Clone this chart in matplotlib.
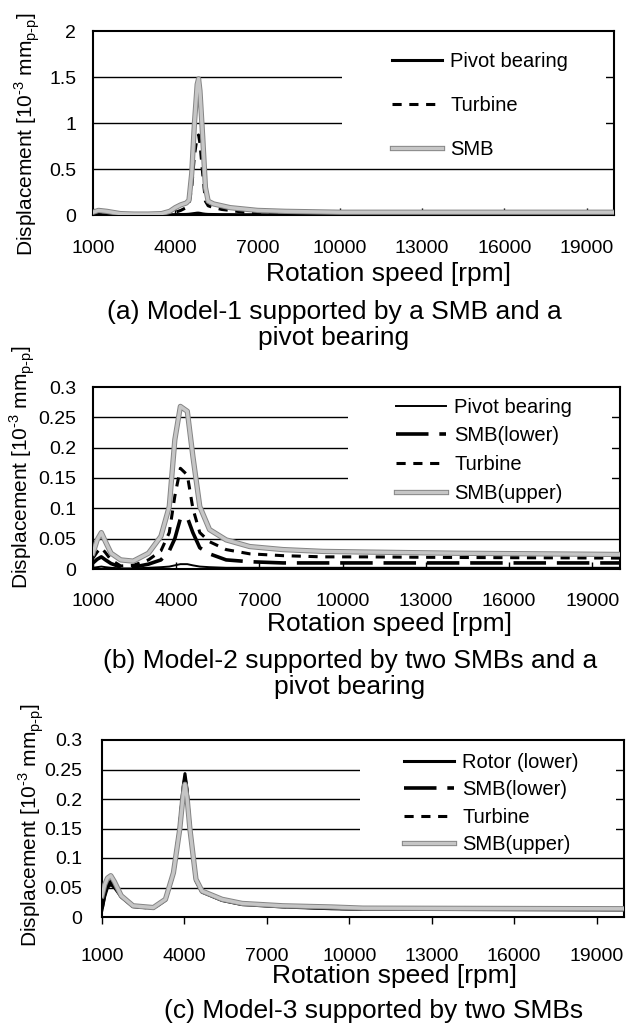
import matplotlib
matplotlib.use("Agg")
import matplotlib.pyplot as plt
import matplotlib.patheffects as pe
from matplotlib.lines import Line2D
from matplotlib.patches import Rectangle

plt.rcParams['font.family'] = ['Liberation Sans', 'DejaVu Sans']
plt.rcParams['mathtext.fontset'] = 'custom'
plt.rcParams['mathtext.rm'] = 'Liberation Sans'

# ---- data ----
xticks = [1000, 4000, 7000, 10000, 13000, 16000, 19000]

# (a) Model-1
rpm_a = [1000, 1200, 1500, 2000, 2500, 3000, 3500, 3800, 4000, 4200,
         4400, 4500, 4600, 4700, 4800, 4850, 4900, 5000, 5100, 5200,
         5400, 5700, 6000, 6500, 7000, 8000, 9000, 10000, 12000, 15000, 20000]
pivot_a = [0.003, 0.004, 0.003, 0.002, 0.002, 0.002, 0.002, 0.003, 0.004, 0.005,
           0.006, 0.008, 0.012, 0.016, 0.02, 0.02, 0.018, 0.012, 0.008, 0.006,
           0.005, 0.004, 0.004, 0.003, 0.003, 0.003, 0.003, 0.003, 0.003, 0.003, 0.003]
turbine_a = [0.01, 0.02, 0.015, 0.005, 0.003, 0.003, 0.005, 0.01, 0.03, 0.05,
             0.08, 0.12, 0.3, 0.65, 0.85, 0.87, 0.78, 0.45, 0.15, 0.10,
             0.08, 0.06, 0.05, 0.03, 0.02, 0.012, 0.01, 0.008, 0.006, 0.005, 0.005]
smb_a = [0.03, 0.05, 0.04, 0.015, 0.01, 0.01, 0.015, 0.04, 0.08, 0.11,
         0.13, 0.16, 0.45, 1.0, 1.42, 1.48, 1.35, 0.85, 0.30, 0.15,
         0.12, 0.10, 0.08, 0.065, 0.05, 0.04, 0.035, 0.03, 0.03, 0.03, 0.03]

# (b) Model-2
rpm_b = [1000, 1150, 1300, 1450, 1650, 2000, 2450, 3000, 3450, 3750, 3950, 4150,
         4400, 4600, 4850, 5200, 5800, 6650, 7850, 9300, 10750, 14100, 20000]
pivot_b = [0.002, 0.003, 0.004, 0.003, 0.002, 0.001, 0.001, 0.002, 0.003, 0.004, 0.006, 0.008,
           0.008, 0.006, 0.004, 0.003, 0.002, 0.002, 0.002, 0.002, 0.002, 0.002, 0.002]
lower_b = [0.010, 0.016, 0.020, 0.015, 0.009, 0.003, 0.003, 0.008, 0.015, 0.03, 0.05, 0.083,
           0.085, 0.06, 0.035, 0.025, 0.015, 0.012, 0.010, 0.010, 0.010, 0.010, 0.010]
turbine_b = [0.018, 0.028, 0.035, 0.027, 0.015, 0.005, 0.006, 0.015, 0.03, 0.06, 0.12, 0.166,
             0.155, 0.10, 0.06, 0.045, 0.032, 0.025, 0.022, 0.020, 0.020, 0.019, 0.018]
upper_b = [0.026, 0.048, 0.060, 0.045, 0.026, 0.015, 0.013, 0.026, 0.054, 0.103, 0.213, 0.268,
           0.260, 0.186, 0.103, 0.065, 0.048, 0.037, 0.032, 0.029, 0.028, 0.026, 0.024]

# (c) Model-3
rpm_c = [1000, 1100, 1200, 1320, 1450, 1700, 2130, 2870, 3310, 3600, 3830, 3950,
         4020, 4100, 4200, 4420, 4640, 5370, 6100, 7580, 9350, 10500, 20000]
rotor_c = [0.012, 0.035, 0.050, 0.055, 0.050, 0.034, 0.018, 0.015, 0.029, 0.074, 0.155, 0.220,
           0.243, 0.215, 0.152, 0.062, 0.042, 0.028, 0.021, 0.017, 0.014, 0.013, 0.012]
lower_c = [0.015, 0.04, 0.055, 0.06, 0.054, 0.035, 0.018, 0.015, 0.029, 0.074, 0.152, 0.212,
           0.235, 0.208, 0.15, 0.062, 0.043, 0.029, 0.022, 0.018, 0.015, 0.014, 0.013]
turbine_c = [0.02, 0.045, 0.06, 0.063, 0.056, 0.035, 0.018, 0.015, 0.029, 0.074, 0.15, 0.21,
             0.23, 0.205, 0.15, 0.063, 0.043, 0.029, 0.022, 0.018, 0.015, 0.014, 0.013]
upper_c = [0.036, 0.055, 0.066, 0.070, 0.060, 0.036, 0.019, 0.016, 0.030, 0.075, 0.149, 0.205,
           0.225, 0.20, 0.149, 0.064, 0.044, 0.030, 0.023, 0.019, 0.017, 0.015, 0.014]

# ---- styles ----
GREY = dict(color='#c6c6c6', lw=2.4,
            path_effects=[pe.Stroke(linewidth=3.8, foreground='#858585'), pe.Normal()])
SOLID = dict(color='black', lw=2.2, linestyle='-')
THIN = dict(color='black', lw=1.4, linestyle='-')
LONGDASH = dict(color='black', lw=2.6, linestyle=(0, (9, 3)))
SHORTDASH = dict(color='black', lw=2.2, linestyle=(0, (3, 2.5)))

YLABEL = 'Displacement [10$^{\\text{-3}}$ mm$_{\\text{p-p}}$]'

W, H = 634, 1027
fig = plt.figure(figsize=(W / 100, H / 100), dpi=100)


def make_axes(left, top, right, bottom):
    return fig.add_axes([left / W, 1 - bottom / H, (right - left) / W, (bottom - top) / H])


def setup(ax, ymax, ystep, ylabels, tick_dir, ypad, cover):
    ax.set_xlim(1000, 20000)
    ax.set_ylim(0, ymax)
    yt = [i * ystep for i in range(len(ylabels))]
    ax.set_yticks(yt)
    ax.set_yticklabels(ylabels)
    ax.set_xticks(xticks)
    ax.set_xticklabels([str(v) for v in xticks])
    ax.tick_params(axis='y', length=0, pad=ypad, labelsize=14)
    ax.tick_params(axis='x', direction=tick_dir, length=5, width=1, pad=18, labelsize=14)
    for v in yt[1:-1]:
        ax.axhline(v, color='black', lw=1, zorder=0.5)
    for s in ax.spines.values():
        s.set_linewidth(1.5)
    # white legend area hides part of the grid
    ax.add_patch(Rectangle((cover[0], cover[1]), cover[2] - cover[0], cover[3] - cover[1],
                           transform=ax.transAxes, facecolor='white', edgecolor='none', zorder=1))
    ax.set_ylabel(YLABEL, fontsize=15)


def add_legend(ax, handles, labels, anchor, spacing):
    ax.legend(handles, labels, loc='upper left', bbox_to_anchor=anchor, frameon=False,
              fontsize=14.5, handlelength=2.5, handletextpad=0.4, labelspacing=spacing,
              borderpad=0, borderaxespad=0)


# ---- (a) ----
ax = make_axes(93, 31, 614, 215)
setup(ax, 2, 0.5, ['0', '0.5', '1', '1.5', '2'], 'in', 12, (0.478, 0.3, 0.985, 0.95))
ax.plot(rpm_a, pivot_a, zorder=2, **SOLID)
ax.plot(rpm_a, turbine_a, zorder=2, **SHORTDASH)
ax.plot(rpm_a, smb_a, zorder=3, **GREY)
add_legend(ax, [Line2D([], [], **SOLID), Line2D([], [], **SHORTDASH), Line2D([], [], **GREY)],
           ['Pivot bearing', 'Turbine', 'SMB'], (0.574, 0.8875), 1.25)
ax.yaxis.set_label_coords(-0.098, 0.44)
fig.text(389 / W, 1 - 274 / H, 'Rotation speed [rpm]', ha='center', va='center', fontsize=19)
fig.text(334 / W, 1 - 312 / H, '(a) Model-1 supported by a SMB and a', ha='center', va='center', fontsize=19)
fig.text(334 / W, 1 - 338 / H, 'pivot bearing', ha='center', va='center', fontsize=19)

# ---- (b) ----
ax = make_axes(93, 387, 620, 569)
setup(ax, 0.3, 0.05, ['0', '0.05', '0.1', '0.15', '0.2', '0.25', '0.3'], 'in', 12,
      (0.484, 0.4, 0.985, 0.967))
ax.tick_params(axis='x', pad=17)
ax.plot(rpm_b, pivot_b, zorder=2, **THIN)
ax.plot(rpm_b, lower_b, zorder=2, **LONGDASH)
ax.plot(rpm_b, turbine_b, zorder=2, **SHORTDASH)
ax.plot(rpm_b, upper_b, zorder=3, **GREY)
add_legend(ax, [Line2D([], [], **THIN), Line2D([], [], **LONGDASH), Line2D([], [], **SHORTDASH),
                Line2D([], [], **GREY)],
           ['Pivot bearing', 'SMB(lower)', 'Turbine', 'SMB(upper)'], (0.575, 0.941), 0.48)
ax.yaxis.set_label_coords(-0.106, 0.56)
fig.text(390 / W, 1 - 624 / H, 'Rotation speed [rpm]', ha='center', va='center', fontsize=19)
fig.text(350 / W, 1 - 661 / H, '(b) Model-2 supported by two SMBs and a', ha='center', va='center', fontsize=19)
fig.text(350 / W, 1 - 687 / H, 'pivot bearing', ha='center', va='center', fontsize=19)

# ---- (c) ----
ax = make_axes(102, 740, 624, 917)
setup(ax, 0.3, 0.05, ['0', '0.05', '0.1', '0.15', '0.2', '0.25', '0.3'], 'out', 14,
      (0.494, 0.4, 0.985, 0.967))
ax.tick_params(axis='x', pad=17)
ax.plot(rpm_c, rotor_c, zorder=2, **SOLID)
ax.plot(rpm_c, lower_c, zorder=2, **LONGDASH)
ax.plot(rpm_c, turbine_c, zorder=2, **SHORTDASH)
ax.plot(rpm_c, upper_c, zorder=3, **GREY)
add_legend(ax, [Line2D([], [], **SOLID), Line2D([], [], **LONGDASH), Line2D([], [], **SHORTDASH),
                Line2D([], [], **GREY)],
           ['Rotor (lower)', 'SMB(lower)', 'Turbine', 'SMB(upper)'], (0.578, 0.928), 0.42)
ax.yaxis.set_label_coords(-0.108, 0.52)
fig.text(394 / W, 1 - 976 / H, 'Rotation speed [rpm]', ha='center', va='center', fontsize=19)
fig.text(374 / W, 1 - 1011 / H, '(c) Model-3 supported by two SMBs', ha='center', va='center', fontsize=19)

fig.savefig('out.png', dpi=100)
